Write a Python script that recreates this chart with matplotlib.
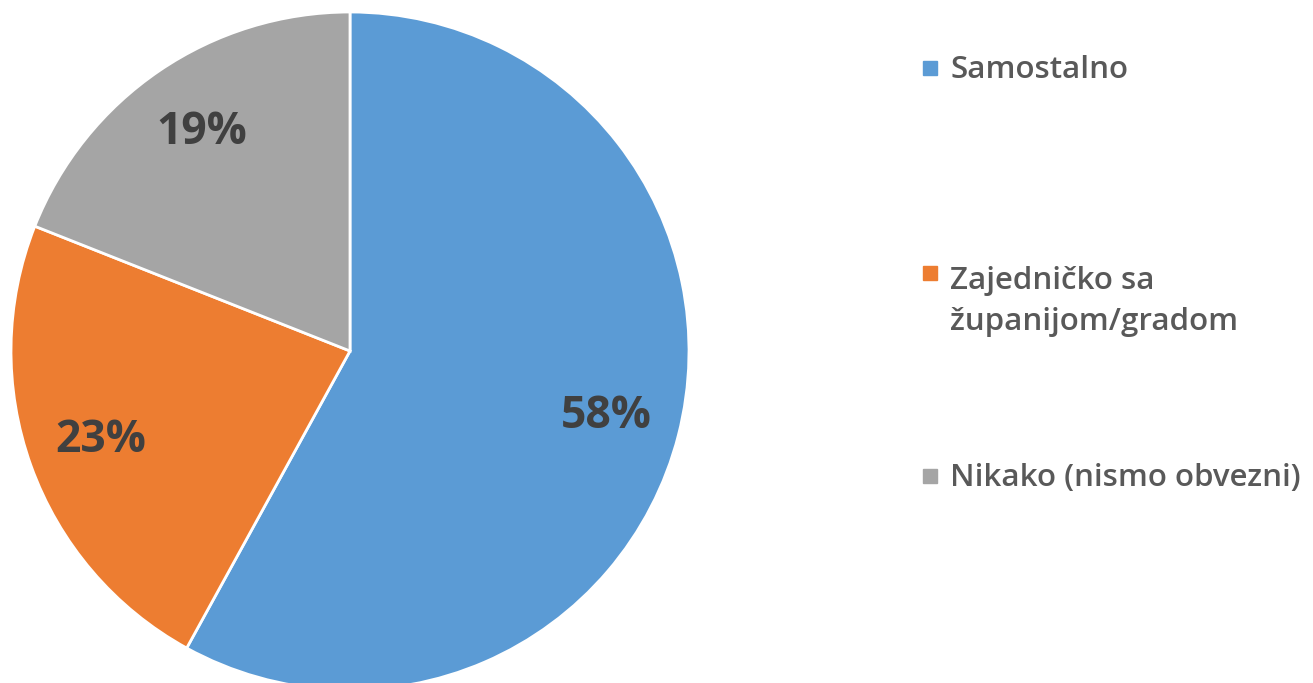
import matplotlib.pyplot as plt
from matplotlib.patches import Rectangle

labels = ["Samostalno", "Zajedničko sa\nžupanijom/gradom", "Nikako (nismo obvezni)"]
shares = [58, 23, 19]
colors = ["#5B9BD5", "#ED7D31", "#A5A5A5"]

plt.rcParams["font.family"] = ["Open Sans", "DejaVu Sans"]

W, H = 1313, 683
fig = plt.figure(figsize=(W / 100, H / 100), dpi=100)

# pie sits in a square box, centre ~(350, 351) px, radius ~339 px
r = 339
cx, cy = 350, 351
ax = fig.add_axes([(cx - r) / W, 1 - (cy + r) / H, 2 * r / W, 2 * r / H])
wedges, texts, autotexts = ax.pie(
    shares, colors=colors, startangle=90, counterclock=False,
    autopct="%d%%", pctdistance=0.78, radius=1,
    wedgeprops=dict(edgecolor="white", linewidth=2),
    textprops=dict(fontsize=32, fontweight="bold", color="#404040"),
)
ax.set_xlim(-1, 1)
ax.set_ylim(-1, 1)
ax.set_aspect("equal")
ax.axis("off")

# legend, one entry at a time (the gaps between entries are uneven)
legend_y = [67.5, 273, 476]
for lab, col, y in zip(labels, colors, legend_y):
    fig.patches.append(Rectangle((923 / W, 1 - (y + 7) / H), 14 / W, 14 / H,
                                 transform=fig.transFigure, color=col, figure=fig))
    # baseline of the last line
    base = y + 10 + 47 * lab.count("\n")
    fig.text(950 / W, 1 - base / H, lab, fontsize=22.5, fontweight=600,
             color="#595959", va="baseline", ha="left", linespacing=1.5)

fig.savefig("out.png", dpi=100)
